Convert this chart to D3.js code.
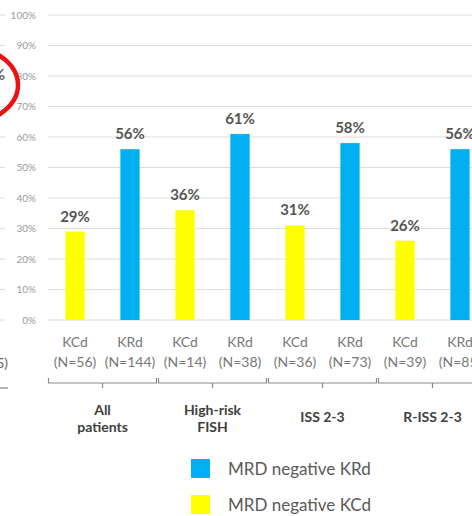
<!DOCTYPE html>
<html>
<head>
<meta charset="utf-8">
<script src="https://cdn.jsdelivr.net/npm/d3@7"></script>
<style>
  html, body { margin: 0; padding: 0; background: #fff; }
  svg { display: block; font-family: Lato, "Open Sans", sans-serif; }
</style>
</head>
<body>
<svg id="chart" width="472" height="516"></svg>
<script>
// MRD negativity rates by subgroup, KCd vs KRd
const groups = ["All patients", "High-risk FISH", "ISS 2-3", "R-ISS 2-3"];
const groupLines = [["All", "patients"], ["High-risk", "FISH"], ["ISS 2-3"], ["R-ISS 2-3"]];
const arms = ["KCd", "KRd"];
const kcdValues = [29, 36, 31, 26];
const krdValues = [56, 61, 58, 56];
const kcdN = [56, 14, 36, 39];
const krdN = [144, 38, 73, 85];
const yTicks = [0, 10, 20, 30, 40, 50, 60, 70, 80, 90, 100];
const legendItems = [
  { label: "MRD negative KRd", arm: "KRd" },
  { label: "MRD negative KCd", arm: "KCd" }
];

const colors = { KCd: "#FFFF00", KRd: "#00B0F0" };

// one row per bar
const bars = [];
groups.forEach((g, i) => {
  bars.push({ group: g, gi: i, arm: "KCd", value: kcdValues[i], n: kcdN[i] });
  bars.push({ group: g, gi: i, arm: "KRd", value: krdValues[i], n: krdN[i] });
});
bars.forEach((d, i) => d.key = i);

const svg = d3.select("#chart");

const y = d3.scaleLinear().domain([0, 100]).range([320, 15]);
const x = d3.scaleBand().domain(bars.map(d => d.key)).range([47.5, 487.5]).paddingInner(0.65).paddingOuter(0.325);
const xg = d3.scaleBand().domain(groups).range([47.5, 487.5]);

// fragments of the neighbouring panel on the left edge
svg.append("g").selectAll("line").data(yTicks).join("line")
  .attr("x1", 0).attr("x2", 5)
  .attr("y1", d => y(d)).attr("y2", d => y(d))
  .attr("stroke", "#ead6d6").attr("stroke-width", 1);
svg.append("text").attr("x", 5).attr("y", 80).attr("text-anchor", "end")
  .attr("font-size", 16).attr("font-weight", "bold").attr("fill", "#666").text("%");
svg.append("text").attr("x", 8).attr("y", 368).attr("text-anchor", "end")
  .attr("font-size", 14).attr("fill", "#666").text("(N=65)");
svg.append("line").attr("x1", 0).attr("x2", 8).attr("y1", 388).attr("y2", 388)
  .attr("stroke", "#888").attr("stroke-width", 1.2);

// gridlines
svg.append("g").selectAll("line").data(yTicks).join("line")
  .attr("x1", 48).attr("x2", 472)
  .attr("y1", d => y(d)).attr("y2", d => y(d))
  .attr("stroke", "#dedede").attr("stroke-width", 1.2);

// y axis labels
const yAxis = d3.axisLeft(y).tickValues(yTicks).tickFormat(d => d + "%").tickSize(0).tickPadding(0);
const ya = svg.append("g").attr("transform", "translate(36,0)").call(yAxis);
ya.select(".domain").remove();
ya.selectAll("text").attr("font-size", 10).attr("fill", "#9a9a9a").attr("font-family", "Lato, sans-serif");

// bars
svg.append("g").selectAll("rect").data(bars).join("rect")
  .attr("x", d => x(d.key))
  .attr("width", x.bandwidth())
  .attr("y", d => y(d.value))
  .attr("height", d => y(0) - y(d.value))
  .attr("fill", d => colors[d.arm]);

// value labels
svg.append("g").selectAll("text").data(bars).join("text")
  .attr("x", d => x(d.key) + x.bandwidth() / 2)
  .attr("y", d => y(d.value) - 10)
  .attr("text-anchor", "middle")
  .attr("font-size", 15).attr("font-weight", "bold").attr("fill", "#555")
  .text(d => d.value + "%");

// arm and N labels
const cat = svg.append("g").selectAll("g").data(bars).join("g")
  .attr("transform", d => `translate(${x(d.key) + x.bandwidth() / 2},0)`);
cat.append("text").attr("y", 347).attr("text-anchor", "middle")
  .attr("font-size", 14).attr("fill", "#787878").text(d => d.arm);
cat.append("text").attr("y", 367).attr("text-anchor", "middle")
  .attr("font-size", 14).attr("fill", "#787878").text(d => `(N=${d.n})`);

// group brackets
const br = svg.append("g").selectAll("g").data(groups).join("g")
  .attr("transform", d => `translate(${xg(d) + xg.bandwidth() / 2},0)`);
br.append("path")
  .attr("d", "M-54,378 V383 H54 V378 M0,383 V388")
  .attr("fill", "none").attr("stroke", "#8a8a8a").attr("stroke-width", 1.2);
br.append("text").attr("text-anchor", "middle")
  .attr("font-size", 14).attr("font-weight", "bold").attr("fill", "#404040")
  .each(function(d, i) {
    const lines = groupLines[i];
    const t = d3.select(this);
    lines.forEach((l, k) => {
      t.append("tspan").attr("x", 0)
        .attr("y", lines.length === 1 ? 422 : 415 + k * 17)
        .text(l);
    });
  });

// legend
const lg = svg.append("g").selectAll("g").data(legendItems).join("g")
  .attr("transform", (d, i) => `translate(191,${459 + i * 36})`);
lg.append("rect").attr("width", 19).attr("height", 19).attr("fill", d => colors[d.arm]);
lg.append("text").attr("x", 37).attr("y", 16)
  .attr("font-size", 17).attr("fill", "#595959").text(d => d.label);

// annotation ring at the left edge
svg.append("ellipse").attr("cx", -40).attr("cy", 85).attr("rx", 58).attr("ry", 40)
  .attr("fill", "none").attr("stroke", "#ee1111").attr("stroke-width", 4.5);
</script>
</body>
</html>
